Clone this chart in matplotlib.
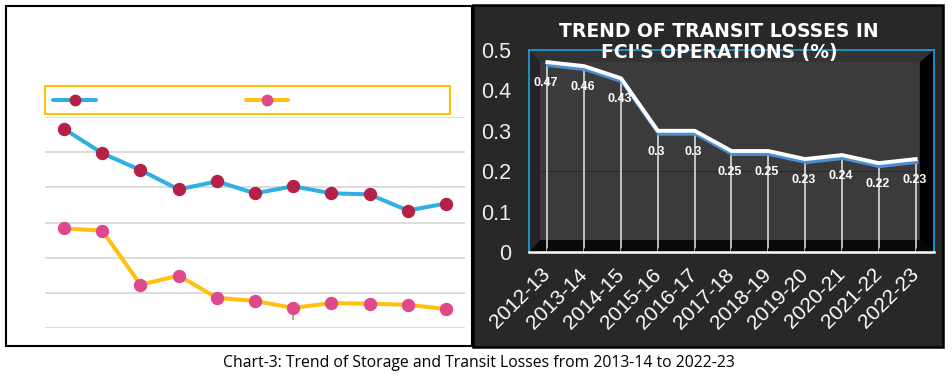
import matplotlib
matplotlib.use("Agg")
import matplotlib.pyplot as plt
from matplotlib.patches import Rectangle, Polygon
from matplotlib.lines import Line2D
import matplotlib.transforms as mtransforms

# ---------------- data ----------------
years = ["2012-13", "2013-14", "2014-15", "2015-16", "2016-17", "2017-18",
         "2018-19", "2019-20", "2020-21", "2021-22", "2022-23"]
# left panel
storage_series = [0.566, 0.497, 0.449, 0.394, 0.417, 0.383, 0.403, 0.383, 0.380, 0.334, 0.354]
transit_series = [0.283, 0.277, 0.123, 0.149, 0.086, 0.077, 0.057, 0.071, 0.069, 0.066, 0.054]
left_yticks = [0.0, 0.1, 0.2, 0.3, 0.4, 0.5, 0.6]
# right panel
transit_losses = [0.47, 0.46, 0.43, 0.30, 0.30, 0.25, 0.25, 0.23, 0.24, 0.22, 0.23]
transit_labels = ["0.47", "0.46", "0.43", "0.3", "0.3", "0.25", "0.25", "0.23", "0.24", "0.22", "0.23"]
right_yticks = [0, 0.1, 0.2, 0.3, 0.4, 0.5]
right_ytick_labels = ["0", "0.1", "0.2", "0.3", "0.4", "0.5"]

title_right = "TREND OF TRANSIT LOSSES IN\nFCI'S OPERATIONS (%)"
caption = "Chart-3: Trend of Storage and Transit Losses from 2013-14 to 2022-23"

W, H = 953, 377
fig = plt.figure(figsize=(W / 100, H / 100), dpi=100)
fig.patch.set_facecolor("white")


def fx(px):
    return px / W


def fy(py):
    return 1 - py / H


def axrect(x0, y0, x1, y1):
    return [fx(x0), fy(y1), fx(x1) - fx(x0), fy(y0) - fy(y1)]


# ---------------- panel frames ----------------
fig.add_artist(Rectangle((fx(6), fy(346)), fx(472) - fx(6), fy(6) - fy(346),
                         transform=fig.transFigure, facecolor="white",
                         edgecolor="black", linewidth=1.5, zorder=0))
fig.add_artist(Rectangle((fx(473), fy(347)), fx(943) - fx(473), fy(5) - fy(347),
                         transform=fig.transFigure, facecolor="#282828",
                         edgecolor="black", linewidth=1.8, zorder=0))

# ---------------- left panel ----------------
BLUE = "#2EB0E4"
CRIMSON = "#B52047"
YELLOW = "#FFC010"
PINK = "#E0488E"

axl = fig.add_axes(axrect(45, 117, 465, 328))
axl.set_facecolor("none")
xs = list(range(len(years)))
axl.plot(xs, storage_series, color=BLUE, lw=2.9, marker="o", ms=8.6,
         mfc=CRIMSON, mec=CRIMSON, zorder=3, solid_capstyle="round")
axl.plot(xs, transit_series, color=YELLOW, lw=2.9, marker="o", ms=8.6,
         mfc=PINK, mec=PINK, zorder=3, solid_capstyle="round")
axl.vlines(6, transit_series[6] - 0.034, transit_series[6], color="#aaaaaa", lw=1.3, zorder=2)
axl.set_xlim(-0.5, len(years) - 0.5)
axl.set_ylim(0, 0.6)
axl.set_yticks(left_yticks)
axl.yaxis.grid(True, color="#d9d9d9", lw=1.3)
axl.set_axisbelow(True)
axl.tick_params(left=False, bottom=False, labelleft=False, labelbottom=False)
for s in axl.spines.values():
    s.set_visible(False)

# legend box (labels blank in the reference)
fig.add_artist(Rectangle((fx(45), fy(114)), fx(450) - fx(45), fy(86) - fy(114),
                         transform=fig.transFigure, facecolor="white",
                         edgecolor="#FFC000", linewidth=1.5))
for (xa, xb, lc, mc) in [(53, 96, BLUE, CRIMSON), (246, 288, YELLOW, PINK)]:
    fig.add_artist(Line2D([fx(xa), fx(xb)], [fy(100), fy(100)], transform=fig.transFigure,
                          color=lc, lw=2.9, solid_capstyle="round"))
    fig.add_artist(Line2D([fx((xa + xb) / 2)], [fy(100)], transform=fig.transFigure,
                          marker="o", ms=7.5, mfc=mc, mec=mc, lw=0))

# ---------------- right panel ----------------
axr = fig.add_axes(axrect(529, 50, 934, 252))
axr.set_facecolor("#2e2e2e")
ax_t = axr.transAxes
wx0, wx1, wy0, wy1 = 0.027, 0.965, 0.059, 0.941
# back wall
axr.add_patch(Rectangle((wx0, wy0), wx1 - wx0, wy1 - wy0, transform=ax_t,
                        facecolor="#3b3b3b", edgecolor="none", zorder=0))
# floor
axr.add_patch(Polygon([(0, 0), (1, 0), (wx1, wy0), (wx0, wy0)], closed=True, transform=ax_t,
                      facecolor="#080808", edgecolor="none", zorder=0))
# left wall
axr.add_patch(Polygon([(0, 0), (wx0, wy0), (wx0, wy1), (0, 1)], closed=True, transform=ax_t,
                      facecolor="#242424", edgecolor="none", zorder=0))
# right wall
axr.add_patch(Polygon([(1, 0), (1, 1), (wx1, wy1), (wx1, wy0)], closed=True, transform=ax_t,
                      facecolor="#000000", edgecolor="none", zorder=0))
# top
axr.add_patch(Polygon([(0, 1), (1, 1), (wx1, wy1), (wx0, wy1)], closed=True, transform=ax_t,
                      facecolor="#333333", edgecolor="none", zorder=0))
# faint gridline on back wall
axr.plot([wx0, wx1], [0.4, 0.4], transform=ax_t, color="#2a2a2a", lw=0.8, zorder=0.5)

# drop lines
axr.vlines(xs, 0, transit_losses, color="white", lw=1.4, alpha=0.7, zorder=1)

# shadow line + main line
shadow_tr = mtransforms.offset_copy(axr.transData, fig=fig, x=1, y=-3, units="dots")
axr.plot(xs, transit_losses, color="#4A8FD4", lw=2.8, transform=shadow_tr, zorder=2)
axr.plot(xs, transit_losses, color="white", lw=2.8, zorder=3)

for x, v, lab in zip(xs, transit_losses, transit_labels):
    axr.annotate(lab, (x, v), xytext=(-1, -15), textcoords="offset points",
                 ha="center", va="center", color="white", fontsize=9,
                 fontweight="bold", family=["Liberation Sans", "DejaVu Sans"], zorder=4)

axr.set_xlim(-0.5, len(years) - 0.5)
axr.set_ylim(0, 0.5)
axr.set_yticks(right_yticks)
axr.set_yticklabels(right_ytick_labels, family=["Liberation Sans", "DejaVu Sans"],
                    fontsize=15.5, color="#eeeeee")
axr.set_xticks(xs)
axr.set_xticklabels(years, rotation=45, ha="right", va="center", rotation_mode="anchor",
                    family=["Liberation Sans", "DejaVu Sans"], fontsize=15, color="white")
axr.tick_params(axis="y", length=0, pad=13)
axr.tick_params(axis="x", length=3, color="black", direction="in", pad=14)
for side in ["left", "right", "top"]:
    axr.spines[side].set_color("#1A9AD6")
    axr.spines[side].set_linewidth(1.3)
axr.spines["bottom"].set_color("white")
axr.spines["bottom"].set_linewidth(1.8)

fig.text(fx(719), fy(42), title_right, ha="center", va="center", color="white",
         fontsize=13.5, fontweight="bold", linespacing=1.12,
         family=["DejaVu Sans"], zorder=5)

# ---------------- caption ----------------
fig.text(fx(479), fy(363), caption, ha="center", va="center", color="black",
         fontsize=11.3, family=["Open Sans", "DejaVu Sans"])

fig.savefig("out.png", dpi=100, facecolor="white")
